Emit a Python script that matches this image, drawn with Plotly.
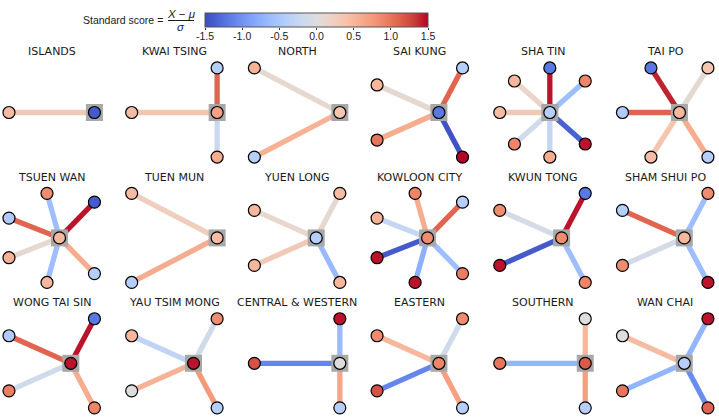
import math
import plotly.graph_objects as go
from plotly.colors import sample_colorscale

# ---------------- data ----------------
DISTRICTS = ["ISLANDS", "KWAI TSING", "NORTH", "SAI KUNG", "SHA TIN", "TAI PO",
             "TSUEN WAN", "TUEN MUN", "YUEN LONG", "KOWLOON CITY", "KWUN TONG", "SHAM SHUI PO",
             "WONG TAI SIN", "YAU TSIM MONG", "CENTRAL & WESTERN", "EASTERN", "SOUTHERN", "WAN CHAI"]

# standard score of the district itself (hub node)
HUB_SCORES = [-1.4, 0.7, 0.35, -1.2, -0.4, 0.5,
              0.5, 0.45, -0.4, 0.85, 0.85, 0.5,
              1.45, 1.45, 0.0, 0.9, 1.15, -0.4]

# neighbour node scores, listed counter-clockwise starting from the first position
LEAF_SCORES = [
    [0.45],
    [-0.4, 0.45, 0.6],
    [0.55, -0.4],
    [-0.4, 0.5, 1.0, 1.5],
    [0.9, -1.2, 0.5, 0.45, 0.9, 0.6, 1.45],
    [0.35, -1.2, -0.45, 0.45, -0.4],
    [-1.4, 0.85, -0.45, 0.55, 0.5, -0.4],
    [0.45, -0.4],
    [0.45, 0.5, 0.5, 0.5],
    [-0.4, 0.9, 0.55, 1.45, 1.45, 0.95],
    [-1.2, 0.85, 1.45, 0.9],
    [0.85, -0.4, 0.85, 1.45],
    [-1.2, -0.45, 0.95, 0.9],
    [0.85, 0.5, 0.0, -0.4],
    [1.45, 1.2, -0.4],
    [0.85, 0.85, 1.2, -0.4],
    [0.0, 1.0, -0.4],
    [1.45, 0.0, 1.0, 1.1],
]

# edge (link) scores, same order as LEAF_SCORES
EDGE_SCORES = [
    [0.3],
    [1.1, 0.35, -0.2],
    [0.1, 0.55],
    [1.1, 0.1, 0.6, -1.45],
    [-0.6, 1.45, 0.15, 0.3, -0.15, -0.25, -1.35],
    [0.08, 1.4, 1.1, 0.35, 0.6],
    [1.45, -0.6, 1.1, 0.1, -0.6, 0.6],
    [0.25, 0.6],
    [0.1, 0.12, 0.3, -0.65],
    [1.1, 0.6, -0.25, -1.4, -0.75, -0.6],
    [1.45, -0.1, -1.4, -0.6],
    [-0.6, 1.1, -0.1, -0.6],
    [1.45, 1.1, -0.15, 0.6],
    [-0.15, -0.3, 0.55, 0.75],
    [-0.65, -1.1, 0.65],
    [-0.15, 0.5, -1.1, 0.7],
    [0.5, -0.7, 0.7],
    [-0.7, 0.45, -0.7, -1.05],
]

CB_TICKS = [-1.5, -1.0, -0.5, 0.0, 0.5, 1.0, 1.5]
VMIN, VMAX = -1.5, 1.5

# ---------------- style ----------------
_CW = [
    (0.2298057, 0.298717966, 0.753683153), (0.30386891, 0.406535296, 0.84495867),
    (0.38301334, 0.50941904, 0.917387822), (0.46666708, 0.604562568, 0.968154911),
    (0.552953156, 0.688929332, 0.995375608), (0.639176211, 0.759599947, 0.998151185),
    (0.722193294, 0.813952739, 0.976574709), (0.798691636, 0.849786142, 0.931688648),
    (0.865395197, 0.86541021, 0.865395561), (0.924127593, 0.827384882, 0.774508472),
    (0.958852946, 0.769767752, 0.678007945), (0.969954137, 0.694266682, 0.579375448),
    (0.958003065, 0.602842431, 0.481775914), (0.923944917, 0.49730856, 0.387970225),
    (0.869186849, 0.378313092, 0.300267182), (0.795631745, 0.24128379, 0.220525627),
    (0.705673158, 0.01555616, 0.150232812),
]
COOLWARM = [[i / (len(_CW) - 1), "rgb(%d,%d,%d)" % tuple(round(c * 255) for c in rgb)]
            for i, rgb in enumerate(_CW)]


def score_color(v):
    t = min(max((v - VMIN) / (VMAX - VMIN), 0), 1)
    return sample_colorscale(COOLWARM, [t])[0]


W, H = 719, 418
COL0, COLSTEP, AXW = 4.7, 122.7, 94.0
ROW0, ROWSTEP, AXH = 63.5, 125.4, 98.0
CB_LEFT, CB_RIGHT, CB_TOP, CB_THICK = 205.0, 428.0, 12.7, 14.0
FONT = "DejaVu Sans, Liberation Sans, sans-serif"
CBFONT = "Liberation Sans, Arial, sans-serif"

fig = go.Figure()
annotations = []
layout_axes = {}

for i, name in enumerate(DISTRICTS):
    r, c = divmod(i, 6)
    leaves = LEAF_SCORES[i]
    edges = EDGE_SCORES[i]
    n = len(leaves)
    ang = [2 * math.pi * (k + 1) / (n + 1) for k in range(n)]
    lx = [math.cos(a) for a in ang]
    ly = [math.sin(a) for a in ang]
    xa = "x%d" % (i + 1)
    ya = "y%d" % (i + 1)

    for x1, y1, ev in zip(lx, ly, edges):
        fig.add_trace(go.Scatter(x=[0, x1], y=[0, y1], mode="lines",
                                 line=dict(color=score_color(ev), width=5.3),
                                 cliponaxis=False,
                                 hoverinfo="skip", showlegend=False, xaxis=xa, yaxis=ya))
    fig.add_trace(go.Scatter(x=[0], y=[0], mode="markers", cliponaxis=False,
                             marker=dict(symbol="square", size=17, color="#a8a8a8"),
                             hoverinfo="skip", showlegend=False, xaxis=xa, yaxis=ya))
    node_kw = dict(size=12, color=[HUB_SCORES[i]] + leaves, colorscale=COOLWARM,
                   cmin=VMIN, cmax=VMAX, line=dict(color="black", width=1.2))
    if i == 0:
        node_kw.update(showscale=True, colorbar=dict(
            orientation="h", x=(CB_LEFT + CB_RIGHT) / 2 / W, xanchor="center",
            y=1 - CB_TOP / H, yanchor="top",
            len=CB_RIGHT - CB_LEFT, lenmode="pixels", thickness=CB_THICK, thicknessmode="pixels",
            xpad=0, ypad=0, outlinewidth=1, outlinecolor="#555555",
            ticks="", showticklabels=False, tickvals=CB_TICKS))
    fig.add_trace(go.Scatter(x=[0] + lx, y=[0] + ly, mode="markers", marker=node_kw,
                             cliponaxis=False,
                             hoverinfo="skip", showlegend=False, xaxis=xa, yaxis=ya))

    xs = [0] + lx
    ys = [0] + ly

    def rng(vals):
        lo, hi = min(vals), max(vals)
        span = hi - lo
        if span < 1e-9:
            return [lo - 1, hi + 1]
        return [lo - 0.05 * span, hi + 0.05 * span]

    left = COL0 + COLSTEP * c
    top = ROW0 + ROWSTEP * r
    suffix = "" if i == 0 else str(i + 1)
    layout_axes["xaxis" + suffix] = dict(domain=[left / W, (left + AXW) / W], range=rng(xs),
                                         visible=False, fixedrange=True, anchor=ya,
                                         automargin=False)
    layout_axes["yaxis" + suffix] = dict(domain=[1 - (top + AXH) / H, 1 - top / H], range=rng(ys),
                                         visible=False, fixedrange=True, anchor=xa,
                                         automargin=False)
    annotations.append(dict(text=name, xref="paper", yref="paper",
                            x=(left + AXW / 2) / W, y=1 - (top - 11.8) / H,
                            xanchor="center", yanchor="middle", showarrow=False,
                            font=dict(family=FONT, size=11, color="#1a1a1a")))

# tick axis drawn along the bottom edge of the colour bar
cb_bottom = CB_TOP + CB_THICK
fig.add_trace(go.Scatter(x=[], y=[], xaxis="x19", yaxis="y19", showlegend=False,
                         hoverinfo="skip"))
layout_axes["xaxis19"] = dict(domain=[CB_LEFT / W, CB_RIGHT / W], range=[VMIN, VMAX],
                              anchor="free", position=1 - cb_bottom / H, side="bottom",
                              showgrid=False, zeroline=False, showline=False,
                              ticks="outside", ticklen=2.5, tickwidth=1, tickcolor="#333333",
                              tickvals=CB_TICKS, ticktext=["%.1f" % t for t in CB_TICKS],
                              ticklabelstandoff=-3, automargin=False,
                              tickfont=dict(family=CBFONT, size=10.5, color="#222222"),
                              fixedrange=True)
layout_axes["yaxis19"] = dict(domain=[1 - (cb_bottom + 1) / H, 1 - cb_bottom / H],
                              anchor="x19", visible=False, fixedrange=True, automargin=False)

# colorbar label: Standard score = (X - mu) / sigma
annotations.append(dict(text="Standard score =", xref="paper", yref="paper",
                        x=165 / W, y=1 - 20 / H, xanchor="right", yanchor="middle",
                        showarrow=False, font=dict(family=CBFONT, size=10.5, color="#1a1a1a")))
annotations.append(dict(text="<i>X</i> − <i>μ</i>", xref="paper", yref="paper",
                        x=181 / W, y=1 - 13.5 / H, xanchor="center", yanchor="middle",
                        showarrow=False, font=dict(family=CBFONT, size=11.5, color="#1a1a1a")))
annotations.append(dict(text="<i>σ</i>", xref="paper", yref="paper",
                        x=181 / W, y=1 - 26.5 / H, xanchor="center", yanchor="middle",
                        showarrow=False, font=dict(family=CBFONT, size=11.5, color="#1a1a1a")))

fig.update_layout(
    width=W, height=H, margin=dict(l=0, r=0, t=0, b=0, autoexpand=False),
    paper_bgcolor="white", plot_bgcolor="white",
    annotations=annotations,
    shapes=[dict(type="line", xref="paper", yref="paper",
                 x0=168 / W, x1=194 / W, y0=1 - 20.5 / H, y1=1 - 20.5 / H,
                 line=dict(color="#1a1a1a", width=1))],
    **layout_axes,
)

fig.write_html("out.html", config={"displayModeBar": False},
               post_script="document.body.style.margin='0';document.body.style.overflow='hidden';")
